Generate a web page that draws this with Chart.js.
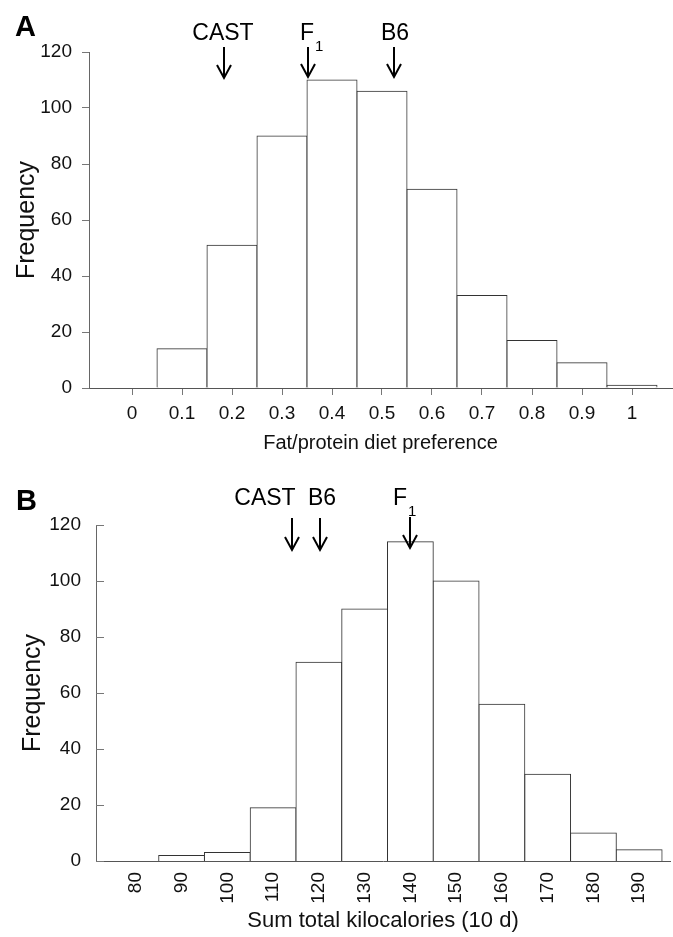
<!DOCTYPE html>
<html><head><meta charset="utf-8">
<script src="https://cdn.jsdelivr.net/npm/chart.js@4/dist/chart.umd.min.js"></script>
<style>
html,body{margin:0;padding:0;background:#fff;width:673px;height:937px;overflow:hidden}
canvas{position:absolute;left:0}
#ca{top:0}
#cb{top:468px}
</style></head><body>
<canvas id="ca" width="673" height="468"></canvas>
<canvas id="cb" width="673" height="469"></canvas>
<script>
// ---- Panel A: fat/protein diet preference ----
const prefBins = [0, 0.1, 0.2, 0.3, 0.4, 0.5, 0.6, 0.7, 0.8, 0.9, 1];
const prefTickLabels = ['0', '0.1', '0.2', '0.3', '0.4', '0.5', '0.6', '0.7', '0.8', '0.9', '1'];
const prefCounts = [0, 14, 51, 90, 110, 106, 71, 33, 17, 9, 1];
const prefMarkerNames = ['CAST', 'F', 'B6'];
const prefMarkerSubs = ['', '1', ''];
const prefMarkerValues = [0.184, 0.352, 0.524];

// ---- Panel B: sum total kilocalories (10 d) ----
const kcalBins = [80, 90, 100, 110, 120, 130, 140, 150, 160, 170, 180, 190];
const kcalTickLabels = ['80', '90', '100', '110', '120', '130', '140', '150', '160', '170', '180', '190'];
const kcalCounts = [0, 2, 3, 19, 71, 90, 114, 100, 56, 31, 10, 4];
const kcalMarkerNames = ['CAST', 'B6', 'F'];
const kcalMarkerSubs = ['', '', '1'];
const kcalMarkerValues = [114.1, 120.2, 140.0];

// shared
const freqTicks = [0, 20, 40, 60, 80, 100, 120];

const FONT = '"Liberation Sans", Arial, Helvetica, sans-serif';
const TXT = '#111';

const markerPlugin = {
  id: 'markers',
  afterDraw(chart, args, o) {
    const ctx = chart.ctx, xs = chart.scales.x;
    ctx.save();
    o.values.forEach((v, i) => {
      const x = Math.round(xs.getPixelForValue(v));
      const t = o.arrowTop[i], b = o.arrowBottom[i];
      ctx.strokeStyle = '#000';
      ctx.lineWidth = 2;
      ctx.beginPath(); ctx.moveTo(x, t); ctx.lineTo(x, b); ctx.stroke();
      ctx.beginPath(); ctx.moveTo(x - 7, b - 13); ctx.lineTo(x, b); ctx.lineTo(x + 7, b - 13); ctx.stroke();
      ctx.fillStyle = '#000';
      ctx.font = '23px ' + FONT;
      ctx.textBaseline = 'middle';
      ctx.textAlign = 'center';
      const lx = x + o.labelDx[i];
      ctx.fillText(o.names[i], lx, o.labelY);
      if (o.subs[i]) {
        const w = ctx.measureText(o.names[i]).width;
        ctx.font = '15px ' + FONT;
        ctx.textAlign = 'left';
        ctx.fillText(o.subs[i], lx + w / 2 + 1, o.labelY + 13);
      }
    });
    ctx.fillStyle = '#000';
    ctx.font = 'bold 29px ' + FONT;
    ctx.textAlign = 'left';
    ctx.textBaseline = 'middle';
    ctx.fillText(o.letter, o.letterX, o.letterY);
    if (o.innerTicks) {
      const ys = chart.scales.y, left = chart.chartArea.left;
      ctx.strokeStyle = '#777'; ctx.lineWidth = 1;
      ys.ticks.forEach(tk => {
        const y = Math.round(ys.getPixelForValue(tk.value)) + 0.5;
        ctx.beginPath(); ctx.moveTo(left, y); ctx.lineTo(left + 8, y); ctx.stroke();
      });
    }
    ctx.restore();
  }
};

function makeChart(id, p) {
  return new Chart(document.getElementById(id), {
    type: 'bar',
    data: {
      datasets: [{
        data: p.bins.map((b, i) => ({ x: b, y: p.counts[i] })),
        backgroundColor: '#fff',
        borderColor: '#333',
        borderWidth: 1,
        borderSkipped: 'start',
        inflateAmount: 0.5,
        barPercentage: 1,
        categoryPercentage: 1
      }]
    },
    options: {
      responsive: false,
      animation: false,
      devicePixelRatio: 1,
      layout: { padding: p.padding },
      plugins: { legend: { display: false }, tooltip: { enabled: false }, markers: p.markers },
      scales: {
        x: {
          type: 'linear',
          offset: false,
          min: p.xmin, max: p.xmax,
          afterBuildTicks: s => { s.ticks = p.bins.map(v => ({ value: v })); },
          afterFit: s => { s.height = p.xHeight; },
          ticks: {
            autoSkip: false,
            minRotation: p.rot, maxRotation: p.rot,
            padding: p.xTickPad,
            color: TXT,
            font: { family: FONT, size: 19 },
            callback: (v, i) => p.tickLabels[i]
          },
          grid: Object.assign({ offset: false }, p.xGrid),
          border: { display: true, color: '#555', width: 1 },
          title: { display: true, text: p.xTitle, color: TXT, font: { family: FONT, size: p.xTitleSize, lineHeight: 1.2 }, padding: { top: 0, bottom: p.xTitlePad } }
        },
        y: {
          min: 0, max: 120,
          afterBuildTicks: s => { s.ticks = freqTicks.map(v => ({ value: v })); },
          afterFit: s => { s.width = p.yWidth; },
          ticks: { padding: p.yTickPad, color: TXT, font: { family: FONT, size: 19 } },
          grid: p.yGrid,
          border: { display: true, color: '#666', width: 1 },
          title: { display: true, text: 'Frequency', color: TXT, font: { family: FONT, size: 25, lineHeight: 1.2 }, padding: { top: p.yTitlePad, bottom: 0 } }
        }
      }
    },
    plugins: [markerPlugin]
  });
}

makeChart('ca', {
  bins: prefBins, counts: prefCounts, tickLabels: prefTickLabels,
  xmin: -0.086, xmax: 1.08, rot: 0,
  padding: { left: 0, right: 1, top: 52, bottom: 0 },
  xHeight: 80, xTickPad: 7,
  xGrid: { display: true, drawOnChartArea: false, drawTicks: true, tickLength: 7, color: '#777' },
  xTitle: 'Fat/protein diet preference', xTitleSize: 20, xTitlePad: 13,
  yWidth: 89, yTickPad: 10, yTitlePad: 12,
  yGrid: { display: true, drawOnChartArea: false, drawTicks: true, tickLength: 7, color: '#777' },
  markers: { values: prefMarkerValues, names: prefMarkerNames, subs: prefMarkerSubs, arrowTop: [47, 47, 47], arrowBottom: [78, 77, 77], labelDx: [-1, -1, 1], labelY: 34, letter: 'A', letterX: 15, letterY: 28, innerTicks: false }
});

makeChart('cb', {
  bins: kcalBins, counts: kcalCounts, tickLabels: kcalTickLabels,
  xmin: 71.3, xmax: 196.74, rot: 90,
  padding: { left: 0, right: 0, top: 57, bottom: 0 },
  xHeight: 76, xTickPad: 11,
  xGrid: { display: false, drawTicks: false },
  xTitle: 'Sum total kilocalories (10 d)', xTitleSize: 22, xTitlePad: 3,
  yWidth: 96, yTickPad: 15, yTitlePad: 18,
  yGrid: { display: false, drawTicks: false },
  markers: { values: kcalMarkerValues, names: kcalMarkerNames, subs: kcalMarkerSubs, arrowTop: [50, 50, 49], arrowBottom: [82, 82, 80], labelDx: [-27, 2, -10], labelY: 31, letter: 'B', letterX: 16, letterY: 34, innerTicks: true }
});
</script>
</body></html>
